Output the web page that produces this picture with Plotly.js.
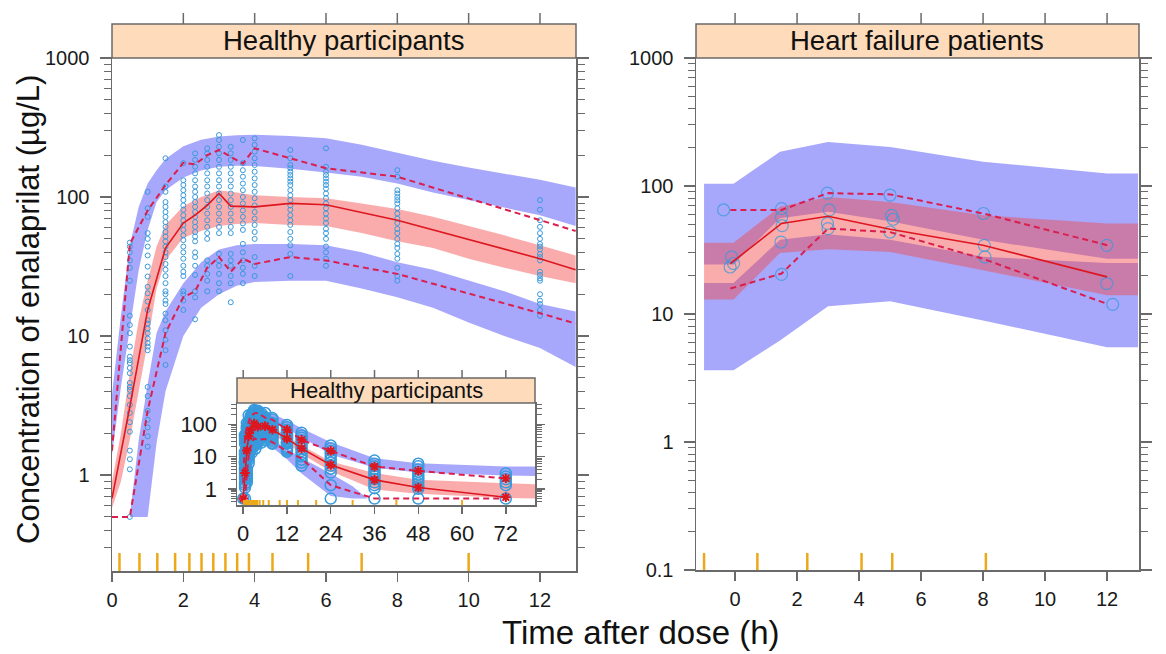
<!DOCTYPE html>
<html><head><meta charset="utf-8">
<script src="https://cdn.plot.ly/plotly-3.0.1.min.js"></script>
<style>html,body{margin:0;padding:0;background:#fff}#chart{width:1166px;height:654px}</style>
</head><body><div id="chart"></div>
<script>
// ================= DATA =================
// ---- Healthy participants (0-13 h): simulated prediction intervals ----
const hBandTime = [0, 0.25, 0.5, 0.75, 1, 1.25, 1.5, 2, 2.5, 3, 3.5, 4, 5, 6, 7, 8, 9, 10, 11, 12, 13];
const hP95Upper = [3.8, 14, 45, 85, 125, 156, 188, 232, 258, 272, 278, 280, 275, 265, 238, 208, 182, 163, 148, 133, 117];
const hP95Lower = [1.4, 4.3, 11.5, 30, 58, 92, 112, 138, 155, 165, 168, 167, 160, 150, 140, 125, 108, 95, 84, 74, 62];
const hMedUpper = [0.9, 2.0, 5.5, 13, 25, 44, 63, 86, 100, 112, 108, 103, 100, 98, 90, 82, 72, 62, 53, 45, 38];
const hMedLower = [0.58, 0.9, 1.8, 4, 9, 22, 35, 51, 57, 62, 64, 65, 63, 62, 55, 48, 43, 36, 31, 27, 24];
const hP5Time  = [0.5, 0.75, 1, 1.25, 1.5, 2, 2.5, 3, 3.5, 4, 5, 6, 7, 8, 9, 10, 11, 12, 13];
const hP5Upper = [0.5, 1.8, 4.5, 10.5, 15, 24, 34, 42, 45, 46, 46, 45, 40, 34, 30, 25, 21, 17, 15];
const hP5Lower = [0.5, 0.5, 0.5, 1.7, 4, 10, 16, 20, 23, 24.5, 25, 25, 22, 19, 16, 12.5, 10, 8.2, 6.0];

// ---- Healthy: observed percentiles ----
const hObsTime   = [0, 0.5, 1, 1.5, 2, 2.33, 2.67, 3, 3.33, 3.67, 4, 5, 6, 8, 12, 13];
const hObsMedian = [0.68, 3.1, 15.4, 43, 65, 74, 87, 106, 86, 85, 85, 90, 88, 68, 36, 30];
const hObsP95    = [1.5, 46, 80, 122, 176, 172, 200, 218, 195, 174, 224, 190, 161, 140, 68, 57];
const hObsP5     = [0.5, 0.5, 2.9, 10.5, 19, 21, 31, 37, 29, 36, 33, 37, 35, 28, 14.6, 12.3];

// ---- Healthy: bin boundaries (rug) ----
const hRug = [0.21, 0.77, 1.27, 1.77, 2.17, 2.51, 2.84, 3.18, 3.51, 3.84, 4.5, 5.5, 7.0, 10.0];

// ---- Healthy: observed concentrations (µg/L) by nominal time (h) ----
const conc_0_5  = [47, 44, 40, 35, 31, 25, 14, 12, 10.5, 8.4, 7.1, 6.7, 6.4, 5.9, 5.4, 4.6, 4.3, 4.1, 3.7, 3.2, 2.8, 2.4, 2.05, 1.5, 1.3, 1.1, 0.5];
const conc_1_0  = [109, 83, 72, 55, 50, 44, 38, 31.6, 26.8, 22.6, 20.3, 17.7, 15.4, 13, 12.3, 11.3, 10.5, 9.6, 8.9, 8.4, 7.9, 4.3, 3.7, 2.9, 2.5, 2.2, 1.9, 1.6];
const conc_1_5  = [190, 119, 109, 92, 85, 78, 72, 66, 61, 56, 52, 48, 44, 40, 37, 33, 30, 27, 24, 21, 20, 18, 17, 14.5, 13, 11, 9.4, 7.9, 6.2];
const conc_2_0  = [175, 132, 122, 112, 103, 95, 87, 81, 74, 68, 63, 58, 53, 49, 44, 40, 36, 32, 29, 27, 21, 20, 18, 15.4];
const conc_2_33 = [206, 185, 165, 148, 132, 119, 109, 100, 92, 85, 78, 72, 66, 61, 56, 52, 48, 40, 37, 32, 27.5, 21, 19, 13.2];
const conc_2_67 = [224, 206, 185, 165, 148, 132, 119, 106, 95, 85, 76, 68, 61, 55, 50, 35, 32, 28, 25, 21];
const conc_3_0  = [279, 257, 230, 206, 185, 165, 148, 132, 119, 106, 95, 85, 76, 68, 61, 55, 39, 35, 32, 28, 24, 21];
const conc_3_33 = [230, 206, 185, 165, 148, 132, 119, 106, 95, 85, 76, 68, 61, 55, 39, 35, 32, 27, 24, 17.5];
const conc_3_67 = [257, 175, 156, 140, 125, 112, 100, 90, 80, 72, 64.6, 58, 46, 40, 35, 31, 28, 24];
const conc_4_0  = [264, 237, 212, 190, 170, 152, 136, 122, 109, 98, 87, 78, 70, 63, 56, 50, 37, 32, 27];
const conc_5_0  = [218, 190, 170, 161, 152, 144, 136, 129, 122, 112, 103, 95, 87, 81, 74, 68, 63, 56, 50, 45, 39, 27];
const conc_6_0  = [224, 165, 152, 144, 136, 129, 122, 115, 106, 98, 90, 83, 76, 70, 65, 59, 55, 50, 44, 40, 36, 32];
const conc_8_0  = [156, 140, 112, 106, 100, 95, 90, 83, 76, 70, 65, 59, 55, 50, 46, 43, 39, 36, 31, 27, 25];
const conc_12_0 = [95, 81, 68, 61, 55, 50, 46, 44, 42, 39, 37, 35, 29, 27.5, 26, 25, 20, 18, 17, 15.4, 14];

// ---- Inset (healthy, 0-72 h) ----
const iBandTime = [0, 1, 2, 3, 4, 6, 8, 12, 16, 24, 36, 48, 72, 80];
const iP95Upper = [3.8, 125, 232, 272, 280, 265, 208, 133, 75, 28, 8.9, 6.2, 4.9, 4.9];
const iP95Lower = [1.4, 58, 138, 165, 167, 150, 125, 74, 40, 11.5, 4.5, 3.2, 2.6, 2.5];
const iMedUpper = [0.9, 25, 86, 112, 103, 98, 82, 45, 22, 7, 3.1, 1.9, 1.5, 1.4];
const iMedLower = [0.58, 9, 51, 62, 65, 62, 48, 27, 12, 3.5, 0.95, 0.7, 0.52, 0.5];
const iP5Time  = [0.5, 1, 2, 3, 4, 6, 8, 12, 16, 24, 30, 34];
const iP5Upper = [0.5, 4.5, 24, 42, 46, 45, 34, 17, 9, 3, 1.2, 0.5];
const iP5Lower = [0.5, 0.5, 10, 20, 24.5, 25, 19, 8.2, 3, 0.6, 0.5, 0.5];
const iObsTime   = [0, 0.5, 1, 1.5, 2, 3, 4, 6, 8, 12, 16, 24, 36, 48, 72];
const iObsMedian = [0.5, 3.1, 15.4, 43, 65, 106, 85, 88, 68, 36, 18, 5.5, 1.9, 1.1, 0.55];
const iObsP95    = [1.5, 46, 80, 122, 176, 218, 224, 161, 140, 68, 33, 15, 4.9, 3.6, 2.1];
const iObsP5     = [0.5, 0.5, 2.9, 10.5, 19, 37, 33, 35, 28, 14.6, 8.8, 1.3, 0.5, 0.5, 0.5];
const iRugExtra  = [12, 15, 20, 30, 42, 60];
const conc_0   = [0.5];
const conc_16  = [55, 45, 38, 32, 27, 22, 18, 15, 12, 10, 8, 6.5, 5.2];
const conc_24  = [22, 18, 15, 12, 10, 8, 6.5, 5.2, 4.2, 3.2, 1.3, 0.5];
const conc_36  = [7.5, 6, 5, 4.2, 3.5, 3, 2.5, 2, 1.6, 1.3, 1.05, 0.5];
const conc_48  = [6, 5, 4, 3.4, 2.8, 2.3, 1.9, 1.5, 1.2, 1.0, 0.5];
const conc_72  = [3.0, 2.4, 2.0, 1.6, 1.3, 0.5];

// ---- Heart failure patients ----
const hfBandTime = [-1.0, -0.05, 1.45, 3, 5, 8, 12, 13];
const hfP95Upper = [104, 104, 185, 221, 202, 155, 125, 125];
const hfP95Lower = [24.4, 24.4, 56, 63, 53, 38, 27, 27];
const hfMedUpper = [36, 36, 69, 82, 75, 59, 51, 51];
const hfMedLower = [13, 13, 30, 32, 30.5, 22, 14, 14];
const hfP5Upper  = [17.5, 17.5, 38, 42, 38, 28, 25, 25];
const hfP5Lower  = [3.63, 3.63, 6.2, 11.5, 12.6, 8.9, 5.5, 5.5];
const hfObsTime   = [-0.15, 1.5, 3, 5, 8, 12];
const hfObsMedian = [24.8, 51, 58, 46, 34.5, 19.5];
const hfObsP95    = [65, 65, 88, 86, 61, 34.5];
const hfObsP5     = [15.8, 20.7, 46.5, 43.6, 27, 12];
const hfTime = [-0.37, -0.16, -0.05, -0.11, 1.5, 1.5, 1.52, 1.48, 1.5, 2.98, 3.04, 2.98, 3.0, 5.0, 5.05, 5.1, 5.0, 8.01, 8.04, 8.06, 11.99, 11.99, 12.18];
const hfConc = [65, 23.3, 24.8, 27.9, 66.5, 57, 49, 36.5, 20.4, 88, 65, 51, 46.5, 85, 59, 55, 43.7, 61, 34.4, 27.9, 34.4, 17.3, 11.9];
const hfRug = [-1.0, 0.72, 2.33, 4.08, 5.07, 8.09];

// ---- Tick labels ----
const xTicksMain  = [0, 2, 4, 6, 8, 10, 12];
const xTicksInset = [0, 12, 24, 36, 48, 60, 72];
const yTicksLeft  = [1, 10, 100, 1000];
const yTicksRight = [0.1, 1, 10, 100, 1000];
const yTicksInset = [1, 10, 100];

// ================= BUILD =================
const hColumns = [[0.5, conc_0_5],[1, conc_1_0],[1.5, conc_1_5],[2, conc_2_0],[2.33, conc_2_33],[2.67, conc_2_67],
  [3, conc_3_0],[3.33, conc_3_33],[3.67, conc_3_67],[4, conc_4_0],[5, conc_5_0],[6, conc_6_0],[8, conc_8_0],[12, conc_12_0]];
const iColumns = hColumns.concat([[0, conc_0],[16, conc_16],[24, conc_24],[36, conc_36],[48, conc_48],[72, conc_72]]);
function flatX(cols){ return cols.flatMap(c => c[1].map(() => c[0])); }
function flatY(cols){ return cols.flatMap(c => c[1]); }

const BLUE = 'rgba(80,80,250,0.5)';
const RED = 'rgba(245,70,70,0.45)';
const PT = 'rgb(56,154,220)';
const MED = 'rgb(222,22,32)';
const DSH = 'rgb(218,30,78)';
const AX = '#6a6a6a';
const FONT = 'Liberation Sans, Arial, Helvetica, sans-serif';
const STAR = {symbol:'asterisk-open', size:8, color:MED, line:{width:2, color:MED}};

function band(x, hi, lo, color, xa, ya){
  return {type:'scatter', mode:'lines', x: x.concat(x.slice().reverse()), y: hi.concat(lo.slice().reverse()),
    fill:'toself', fillcolor: color, line:{width:0}, hoverinfo:'skip', showlegend:false, xaxis:xa, yaxis:ya};
}
function line(x, y, color, dash, w, xa, ya){
  return {type:'scatter', mode:'lines', x, y, line:{color, width:w, dash}, hoverinfo:'skip', showlegend:false, xaxis:xa, yaxis:ya};
}
function pts(x, y, size, lw, xa, ya, op){
  return {type:'scatter', mode:'markers', x, y, marker:{symbol:'circle-open', size, color:PT, opacity:op||1, line:{width:lw, color:PT}},
    hoverinfo:'skip', showlegend:false, xaxis:xa, yaxis:ya};
}
function stars(x, y, xa, ya){
  return {type:'scatter', mode:'markers', x, y, marker:STAR, hoverinfo:'skip', showlegend:false, xaxis:xa, yaxis:ya};
}
const lateIdx = iObsTime.map((t, i) => i).filter(i => iObsTime[i] >= 12);

const traces = [
  // left
  band(hBandTime, hP95Upper, hP95Lower, BLUE, 'x', 'y'),
  band(hP5Time, hP5Upper, hP5Lower, BLUE, 'x', 'y'),
  band(hBandTime, hMedUpper, hMedLower, RED, 'x', 'y'),
  pts(flatX(hColumns), flatY(hColumns), 5, 1, 'x', 'y'),
  line(hObsTime, hObsMedian, MED, 'solid', 1.6, 'x', 'y'),
  line(hObsTime, hObsP95, DSH, '6px,4px', 2, 'x', 'y'),
  line(hObsTime, hObsP5, DSH, '6px,4px', 2, 'x', 'y'),
  // right
  band(hfBandTime, hfP95Upper, hfP95Lower, BLUE, 'x2', 'y2'),
  band(hfBandTime, hfP5Upper, hfP5Lower, BLUE, 'x2', 'y2'),
  band(hfBandTime, hfMedUpper, hfMedLower, RED, 'x2', 'y2'),
  pts(hfTime, hfConc, 12, 1.2, 'x2', 'y2', 0.75),
  line(hfObsTime, hfObsMedian, MED, 'solid', 1.6, 'x2', 'y2'),
  line(hfObsTime, hfObsP95, DSH, '6px,4px', 2, 'x2', 'y2'),
  line(hfObsTime, hfObsP5, DSH, '6px,4px', 2, 'x2', 'y2'),
  // inset
  band(iBandTime, iP95Upper, iP95Lower, BLUE, 'x3', 'y3'),
  band(iP5Time, iP5Upper, iP5Lower, BLUE, 'x3', 'y3'),
  band(iBandTime, iMedUpper, iMedLower, RED, 'x3', 'y3'),
  pts(flatX(iColumns), flatY(iColumns), 11, 1.5, 'x3', 'y3'),
  line(iObsTime, iObsMedian, MED, 'solid', 1.6, 'x3', 'y3'),
  line(iObsTime, iObsP95, DSH, '6px,4px', 2, 'x3', 'y3'),
  line(iObsTime, iObsP5, DSH, '6px,4px', 2, 'x3', 'y3'),
  stars(iObsTime, iObsMedian, 'x3', 'y3'),
  stars(lateIdx.map(i => iObsTime[i]), lateIdx.map(i => iObsP95[i]), 'x3', 'y3'),
];

// ---------- geometry (paper fractions) ----------
const W = 1166, H = 654;
const px = v => v / W, py = v => 1 - v / H;
const leftDom = [px(112), px(576)], rightDom = [px(696), px(1139)];
const leftY = [py(571), py(58)], rightY = [py(570), py(58)];
const insetX = [px(237), px(535)], insetY = [py(505), py(403)];
const stripTop = py(24), tickTop = py(13);
const iStripTop = py(378), iTickTop = py(370);

function minors(d0, d1, maxV){ const v=[]; for(let d=d0; d<d1; d++) for(let k=2;k<=9;k++){ const t=k*Math.pow(10,d); if(!maxV||t<=maxV) v.push(t);} return v; }

function xax(dom, range, tv, anchor, fs, tl){
  return {domain: dom, range, tickvals: tv, ticktext: tv.map(String), ticks:'outside', ticklen: tl, tickwidth:1.5, tickcolor:AX,
    showline:true, linecolor:AX, linewidth:1.5, mirror:true, showgrid:false, zeroline:false, anchor,
    tickfont:{size:fs, color:'#1a1a1a', family:FONT}, ticklabelstandoff:1, fixedrange:true};
}
function yax(dom, range, tv, minorV, anchor, fs, tl){
  return {domain: dom, type:'log', range, tickvals: tv, ticktext: tv.map(String), ticks:'outside', ticklen: tl, tickwidth:1.5, tickcolor:AX,
    minor:{tickvals: minorV, ticks:'outside', ticklen: Math.round(tl*0.6), tickwidth:1, tickcolor:AX, showgrid:false},
    showline:true, linecolor:AX, linewidth:1.5, mirror:'ticks', showgrid:false, zeroline:false, anchor,
    tickfont:{size:fs, color:'#1a1a1a', family:FONT}, ticklabelstandoff:6, fixedrange:true};
}

const shapes = [];
const strip = (x0, x1, y0, y1) => ({type:'rect', xref:'paper', yref:'paper', x0, x1, y0, y1, fillcolor:'rgb(253,219,187)', line:{color:AX, width:1.5}});
shapes.push(strip(leftDom[0], leftDom[1], leftY[1], stripTop));
shapes.push(strip(rightDom[0], rightDom[1], rightY[1], stripTop));
shapes.push({type:'rect', xref:'x3', yref:'y3', layer:'below', x0:-10, x1:100, y0:0.01, y1:10000, fillcolor:'#fff', line:{width:0}});
shapes.push(strip(insetX[0], insetX[1], insetY[1], iStripTop));
xTicksMain.filter(v => v > 0).forEach(v => shapes.push({type:'line', xref:'x', yref:'paper', x0:v, x1:v, y0:stripTop, y1:tickTop, line:{color:AX, width:1.5}}));
xTicksMain.forEach(v => shapes.push({type:'line', xref:'x2', yref:'paper', x0:v, x1:v, y0:stripTop, y1:tickTop, line:{color:AX, width:1.5}}));
xTicksInset.forEach(v => shapes.push({type:'line', xref:'x3', yref:'paper', x0:v, x1:v, y0:iStripTop, y1:iTickTop, line:{color:AX, width:1.5}}));
const RUG = 'rgb(236,168,24)';
hRug.forEach(v => shapes.push({type:'line', xref:'x', yref:'y domain', x0:v, x1:v, y0:0, y1:18/513, line:{color:RUG, width:2.5}}));
hfRug.forEach(v => shapes.push({type:'line', xref:'x2', yref:'y2 domain', x0:v, x1:v, y0:0, y1:17/512, line:{color:RUG, width:2.5}}));
hRug.concat(iRugExtra).forEach(v => shapes.push({type:'line', xref:'x3', yref:'y3 domain', x0:v, x1:v, y0:0, y1:5/102, line:{color:RUG, width:2}}));

const annotations = [
  {text:'Healthy participants', xref:'paper', yref:'paper', x:(leftDom[0]+leftDom[1])/2, y:(leftY[1]+stripTop)/2, showarrow:false, font:{size:27.5, color:'#111', family:FONT}, xanchor:'center', yanchor:'middle'},
  {text:'Heart failure patients', xref:'paper', yref:'paper', x:(rightDom[0]+rightDom[1])/2, y:(rightY[1]+stripTop)/2, showarrow:false, font:{size:27.5, color:'#111', family:FONT}, xanchor:'center', yanchor:'middle'},
  {text:'Healthy participants', xref:'paper', yref:'paper', x:(insetX[0]+insetX[1])/2, y:(insetY[1]+iStripTop)/2, showarrow:false, font:{size:22, color:'#111', family:FONT}, xanchor:'center', yanchor:'middle'},
  {text:'Concentration of enalaprilat (µg/L)', xref:'paper', yref:'paper', x:px(28), y:py(310), textangle:-90, showarrow:false, font:{size:31, color:'#111', family:FONT}, xanchor:'center', yanchor:'middle'},
  {text:'Time after dose (h)', xref:'paper', yref:'paper', x:px(641), y:py(632), showarrow:false, font:{size:33, color:'#111', family:FONT}, xanchor:'center', yanchor:'middle'},
];

const layout = {
  width: W, height: H, autosize:false, margin:{l:0, r:0, t:0, b:0}, paper_bgcolor:'#fff', plot_bgcolor:'#fff',
  font:{family:FONT}, showlegend:false, shapes, annotations,
  xaxis:  xax(leftDom,  [0, 13.01], xTicksMain, 'y', 20, 9),
  yaxis:  yax(leftY,  [-0.69, 3], yTicksLeft, minors(-1, 3).filter(v => v > 0.2), 'x', 20, 11),
  xaxis2: xax(rightDom, [-1.26, 13.03], xTicksMain, 'y2', 20, 9),
  yaxis2: yax(rightY, [-1, 3], yTicksRight, minors(-1, 3), 'x2', 20, 11),
  xaxis3: xax(insetX, [-1.7, 80], xTicksInset, 'y3', 22, 7),
  yaxis3: yax(insetY, [-0.5, 2.66], yTicksInset, minors(-1, 3, 450).filter(v => v > 0.32), 'x3', 22, 8),
};

Plotly.newPlot('chart', traces, layout, {staticPlot:true, displayModeBar:false});
</script>
</body></html>
